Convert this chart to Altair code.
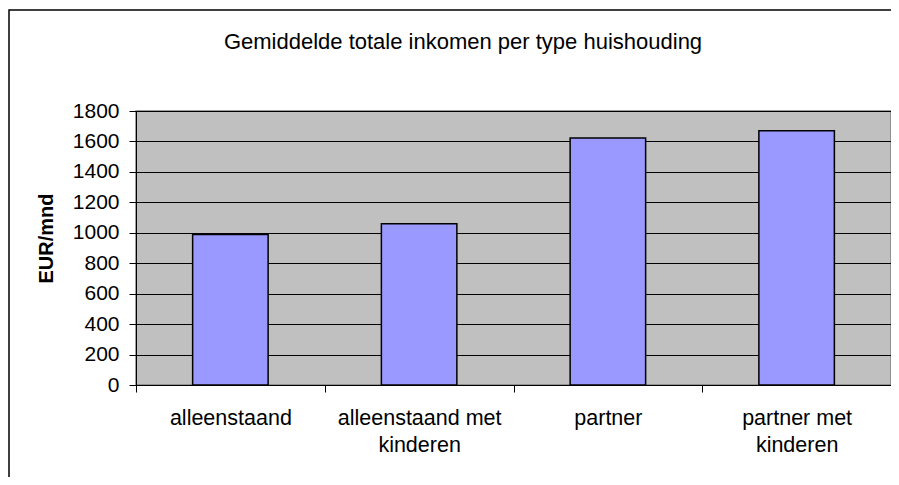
import altair as alt
import pandas as pd

categories = ["alleenstaand", "alleenstaand met kinderen", "partner", "partner met kinderen"]
values = [988, 1060, 1622, 1670]
y_ticks = [0, 200, 400, 600, 800, 1000, 1200, 1400, 1600, 1800]
title_text = "Gemiddelde totale inkomen per type huishouding"
y_title = "EUR/mnd"

df = pd.DataFrame({"type": categories, "inkomen": values})

W, H = 755, 274
FONT = "Liberation Sans"

label_expr = (
    "datum.label == 'alleenstaand met kinderen' ? ['alleenstaand met', 'kinderen'] : "
    "datum.label == 'partner met kinderen' ? ['partner met', 'kinderen'] : datum.label"
)

x_enc = alt.X(
    "type:N",
    sort=categories,
    scale=alt.Scale(paddingInner=0, paddingOuter=0),
    axis=alt.Axis(
        title=None,
        labelExpr=label_expr,
        labelAngle=0,
        labelFont=FONT,
        labelFontSize=21.5,
        labelColor="black",
        labelPadding=26,
        labelLineHeight=27,
        labelBaseline="middle",
        tickBand="extent",
        tickColor="black",
        tickSize=7,
        domainColor="black",
        grid=False,
    ),
)

y_enc = alt.Y(
    "inkomen:Q",
    scale=alt.Scale(domain=[0, 1800], nice=False),
    axis=alt.Axis(
        values=y_ticks,
        format="d",
        title=y_title,
        titleFont=FONT,
        titleFontSize=20,
        titleFontWeight="bold",
        titleColor="black",
        titleAngle=-90,
        titleX=-90,
        titleY=127,
        titleAlign="center",
        titleBaseline="middle",
        labelFont=FONT,
        labelFontSize=21,
        labelColor="black",
        labelPadding=10,
        tickColor="black",
        tickSize=7,
        domainColor="black",
        grid=True,
        gridColor="black",
        gridWidth=1,
        gridOpacity=1,
    ),
)

bars = alt.Chart(df).mark_bar(
    width=alt.RelativeBandSize(0.4),
    color="#9999FF",
    stroke="black",
    strokeWidth=1.5,
).encode(x=x_enc, y=y_enc)

frame = alt.Chart(alt.Data(values=[{"t": 1}])).mark_rect(
    fill=None, stroke="black", strokeWidth=1.5, clip=False
).encode(
    x=alt.value(-127), x2=alt.value(W + 40), y=alt.value(-101), y2=alt.value(H + 120)
)

title = alt.Chart(alt.Data(values=[{"t": title_text}])).mark_text(
    font=FONT, fontSize=22, color="black", align="center", baseline="alphabetic", clip=False
).encode(
    text="t:N", x=alt.value(463 - 136), y=alt.value(49 - 111)
)

chart = alt.layer(bars, frame, title).properties(
    width=W,
    height=H,
    padding={"left": 128, "top": 103, "right": 0, "bottom": 92},
    autosize=alt.AutoSizeParams(type="none"),
    background="white",
).configure_view(
    fill="#C0C0C0", stroke="#808080", strokeWidth=1.5
)

chart.save("out.html", embed_options={"renderer": "svg", "actions": False})
